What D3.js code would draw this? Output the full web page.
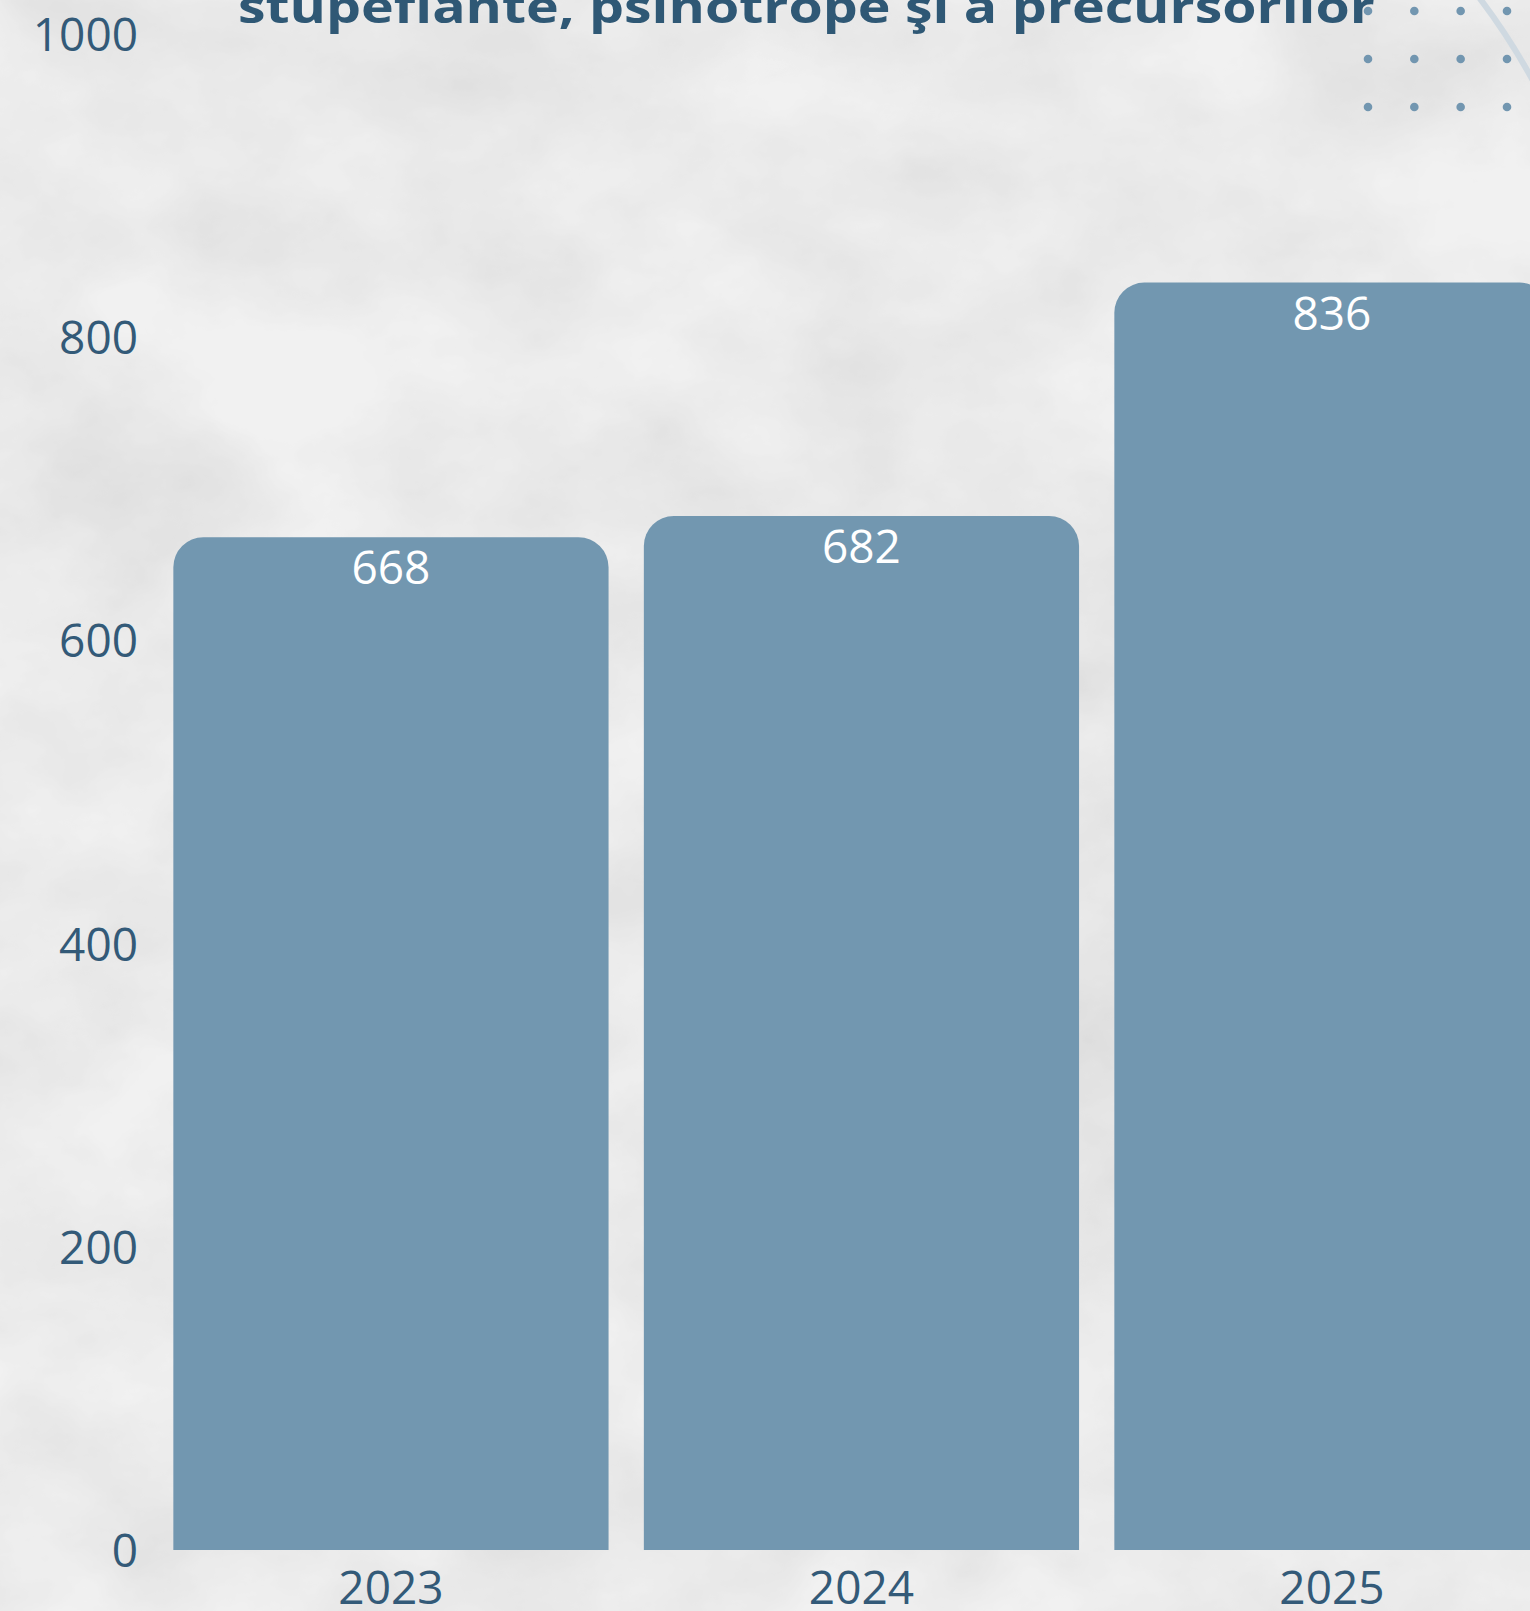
<!DOCTYPE html>
<head>
  <meta charset="utf-8">
  <script src="https://d3js.org/d3.v7.min.js"></script>
  <style>
    body { margin:0; background:#eeeeee; overflow:hidden; }
    svg { display:block; }
    .axis text { font-family:"Open Sans", sans-serif; font-size:46px; fill:#335a78; }
  </style>
</head>

<body>
  <div id=figure></div>
  <script>

    var titre = "stupefiante, psihotrope şi a precursorilor";
    var annees = ["2023", "2024", "2025"];
    var valeurs = [668, 682, 836];
    var graduations = [0, 200, 400, 600, 800, 1000];

    var W = 1530, H = 1611;

    var svg = d3.select("#figure").append("svg")
      .attr("width", W)
      .attr("height", H);

    // fond papier froissé
    var defs = svg.append("defs");
    var f = defs.append("filter").attr("id", "papier")
      .attr("x", 0).attr("y", 0).attr("width", "100%").attr("height", "100%");
    f.append("feTurbulence")
      .attr("type", "fractalNoise")
      .attr("baseFrequency", "0.005 0.007")
      .attr("numOctaves", 6)
      .attr("seed", 7)
      .attr("result", "bruit");
    f.append("feColorMatrix")
      .attr("in", "bruit")
      .attr("type", "matrix")
      .attr("values", "0 0 0 0 0.45  0 0 0 0 0.45  0 0 0 0 0.45  0.5 0.5 0.5 0 -0.55")
      .attr("result", "ombre");
    f.append("feComposite").attr("in", "ombre").attr("in2", "SourceGraphic").attr("operator", "over");

    svg.append("rect")
      .attr("width", W).attr("height", H)
      .attr("fill", "#f0f0f0");
    svg.append("rect")
      .attr("width", W).attr("height", H)
      .attr("fill", "#f3f3f3")
      .attr("filter", "url(#papier)")
      .style("opacity", 0.6);

    // arc décoratif
    var arc = d3.arc()
      .innerRadius(641).outerRadius(647)
      .startAngle(0.86).endAngle(1.1);
    svg.append("path")
      .attr("transform", "translate(967,388)")
      .attr("d", arc)
      .attr("fill", "#cfd9e1");

    // points décoratifs
    var colsPts = d3.range(4), lignesPts = d3.range(3);
    var xp = d3.scaleLinear().domain([0, 3]).range([1368, 1507]);
    var yp = d3.scaleLinear().domain([0, 2]).range([11, 107]);
    lignesPts.forEach(function(l) {
      svg.selectAll(".pt" + l).data(colsPts).enter().append("circle")
        .attr("cx", function(c) { return xp(c); })
        .attr("cy", yp(l))
        .attr("r", 4.3)
        .attr("fill", "#7296b0");
    });

    svg.append("text")
      .attr("x", 238)
      .attr("y", 23)
      .attr("textLength", 1137)
      .attr("lengthAdjust", "spacingAndGlyphs")
      .style("font-family", "'Open Sans', sans-serif")
      .style("font-weight", 700)
      .style("font-size", "45px")
      .style("fill", "#2f5875")
      .text(titre);

    var x = d3.scaleBand()
      .domain(annees)
      .range([155.7, 1567.2])
      .paddingInner(0.075)
      .paddingOuter(0.0375);

    var y = d3.scaleLinear()
      .domain([0, 1000])
      .range([1550, 34]);

    var r = 30;
    function barre(d, i) {
      var x0 = x(annees[i]), x1 = x0 + x.bandwidth();
      var y0 = y(0), y1 = y(d);
      return "M" + x0 + "," + y0 +
        "V" + (y1 + r) +
        "A" + r + "," + r + " 0 0 1 " + (x0 + r) + "," + y1 +
        "H" + (x1 - r) +
        "A" + r + "," + r + " 0 0 1 " + x1 + "," + (y1 + r) +
        "V" + y0 + "Z";
    }

    svg.selectAll(".barre").data(valeurs).enter().append("path")
      .attr("class", "barre")
      .attr("d", barre)
      .attr("fill", "#7297b0");

    svg.selectAll(".valeur").data(valeurs).enter().append("text")
      .attr("class", "valeur")
      .attr("x", function(d, i) { return x(annees[i]) + x.bandwidth() / 2; })
      .attr("y", function(d) { return y(d) + 47; })
      .attr("text-anchor", "middle")
      .style("font-family", "'Open Sans', sans-serif")
      .style("font-size", "46px")
      .style("fill", "#ffffff")
      .text(function(d) { return d; });

    var yAxis = d3.axisLeft(y).tickValues(graduations).tickFormat(d3.format("d"))
      .tickSize(0).tickPadding(8);
    svg.append("g")
      .attr("class", "y axis")
      .attr("transform", "translate(146,0)")
      .call(yAxis)
      .call(function(g) { g.select(".domain").remove(); })
      .selectAll("text").attr("dy", "0.36em");

    var xAxis = d3.axisBottom(x).tickSize(0).tickPadding(21);
    svg.append("g")
      .attr("class", "x axis")
      .attr("transform", "translate(0,1550)")
      .call(xAxis)
      .call(function(g) { g.select(".domain").remove(); });

    svg.selectAll(".axis text").attr("font-size", null).attr("font-family", null);

  </script>
</body>
